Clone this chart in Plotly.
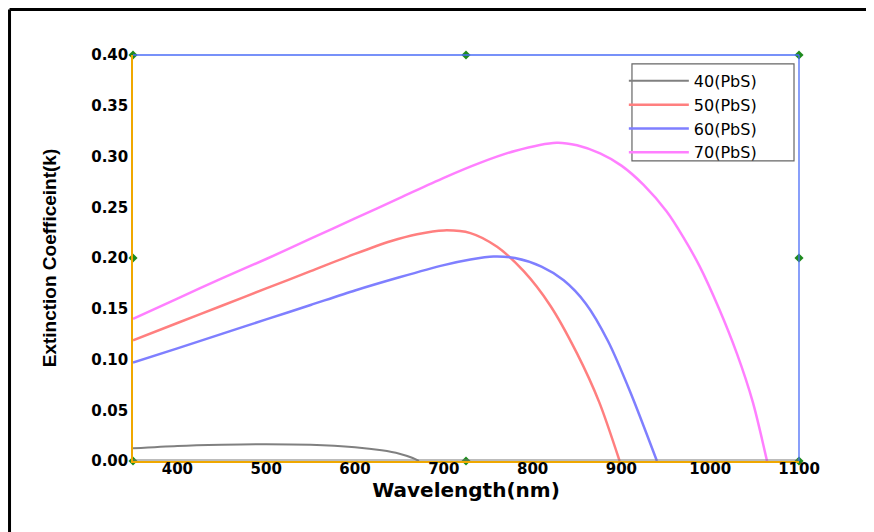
import plotly.graph_objects as go

# ---- data ----
wl_40 = [350, 400, 450, 500, 550, 600, 630, 650, 665, 672]
k_40 = [0.0125, 0.0148, 0.016, 0.0166, 0.016, 0.0135, 0.0105, 0.0072, 0.003, 0.0]

wl_50 = [350, 400, 450, 500, 550, 600, 640, 670, 700, 730, 760, 790, 820, 850, 875, 898]
k_50 = [0.119, 0.136, 0.153, 0.170, 0.187, 0.204, 0.2165, 0.2235, 0.2272, 0.2245, 0.211,
        0.187, 0.153, 0.106, 0.058, 0.0]

wl_60 = [350, 400, 450, 500, 550, 600, 650, 700, 730, 756, 780, 810, 835, 860, 885, 910, 940]
k_60 = [0.097, 0.111, 0.1253, 0.1395, 0.1537, 0.168, 0.181, 0.193, 0.1985, 0.2015, 0.2,
        0.1915, 0.178, 0.155, 0.118, 0.068, 0.0]

wl_70 = [350, 400, 450, 500, 550, 600, 650, 700, 740, 780, 827, 850, 876, 900, 925, 951,
         970, 988, 1010, 1030, 1048, 1064]
k_70 = [0.140, 0.160, 0.180, 0.199, 0.219, 0.239, 0.259, 0.279, 0.2935, 0.3055, 0.3136,
        0.311, 0.303, 0.291, 0.272, 0.2457, 0.220, 0.192, 0.150, 0.106, 0.058, 0.0]

series_names = ["40(PbS)", "50(PbS)", "60(PbS)", "70(PbS)"]

x_ticks = [400, 500, 600, 700, 800, 900, 1000, 1100]
y_ticks = [0.00, 0.05, 0.10, 0.15, 0.20, 0.25, 0.30, 0.35, 0.40]

handle_x = [350, 725, 1100, 350, 1100, 350, 725, 1100]
handle_y = [0.40, 0.40, 0.40, 0.20, 0.20, 0.0, 0.0, 0.0]

# ---- figure ----
colors = ["#808080", "#ff7f7f", "#7f7fff", "#ff7fff"]
widths = [2, 2.5, 2.5, 2.5]
xs = [wl_40, wl_50, wl_60, wl_70]
ys = [k_40, k_50, k_60, k_70]

fig = go.Figure()
for name, x, y, c, w in zip(series_names, xs, ys, colors, widths):
    fig.add_trace(go.Scatter(x=x, y=y, mode="lines", name=name,
                             line=dict(color=c, width=w, shape="spline", smoothing=0.8)))

fig.add_trace(go.Scatter(x=handle_x, y=handle_y, mode="markers", showlegend=False,
                         hoverinfo="skip", cliponaxis=False,
                         marker=dict(symbol="diamond", size=7, color="#1e8a1e")))

tick_font = dict(family="DejaVu Sans", size=15, color="black", weight="bold")

fig.update_layout(
    width=866, height=524,
    margin=dict(l=125, r=75, t=47, b=71),
    paper_bgcolor="white", plot_bgcolor="white",
    showlegend=True,
    legend=dict(x=0.737, y=0.978, xanchor="left", yanchor="top",
                bgcolor="rgba(255,255,255,0)", borderwidth=0,
                font=dict(family="DejaVu Sans", size=16, color="black"),
                itemwidth=60, tracegroupgap=0),
    xaxis=dict(range=[350, 1100], tickvals=x_ticks, ticktext=[str(v) for v in x_ticks],
               showgrid=False, zeroline=False, ticks="", tickfont=tick_font,
               ticklabelstandoff=-7,
               showline=True, linecolor="#f0a800", linewidth=1.5,
               title=dict(text="Wavelength(nm)", standoff=1,
                          font=dict(family="DejaVu Sans", size=20, color="black", weight="bold"))),
    yaxis=dict(range=[0, 0.40], tickvals=y_ticks, tickformat=".2f",
               showgrid=False, zeroline=False, ticks="", tickfont=tick_font,
               showline=True, linecolor="#f0a800", linewidth=1.5,
               title=dict(text="Extinction Coefficeint(k)", standoff=30,
                          font=dict(family="Liberation Sans", size=19, color="black", weight="bold"))),
    shapes=[
        # grey inner edges of left / bottom axes
        dict(type="line", xref="x", xsizemode="pixel", xanchor=350, x0=-2, x1=-2,
             yref="paper", y0=0, y1=1, line=dict(color="#7a7a7a", width=1.2)),
        dict(type="line", yref="y", ysizemode="pixel", yanchor=0, y0=1, y1=1,
             xref="paper", x0=0, x1=1, line=dict(color="#7a7a7a", width=1.2)),
        # blue top / right frame
        dict(type="line", xref="paper", yref="paper", x0=0, x1=1, y0=1, y1=1,
             line=dict(color="#4a6cf7", width=1.3)),
        dict(type="line", xref="paper", yref="paper", x0=1, x1=1, y0=0, y1=1,
             line=dict(color="#4a6cf7", width=1.3)),
        # legend frame
        dict(type="rect", xref="paper", yref="paper", x0=0.7492, x1=0.9925, y0=0.739, y1=0.978,
             line=dict(color="#666666", width=1.2), fillcolor="rgba(0,0,0,0)"),
        # outer black frame (left and top edges)
        dict(type="line", xref="paper", yref="paper", x0=-0.1854, x1=-0.1854, y0=-0.3, y1=1.1121,
             line=dict(color="black", width=3)),
        dict(type="line", xref="paper", yref="paper", x0=-0.1854, x1=1.2, y0=1.1121, y1=1.1121,
             line=dict(color="black", width=3)),
    ],
)

fig.write_html("out.html")
